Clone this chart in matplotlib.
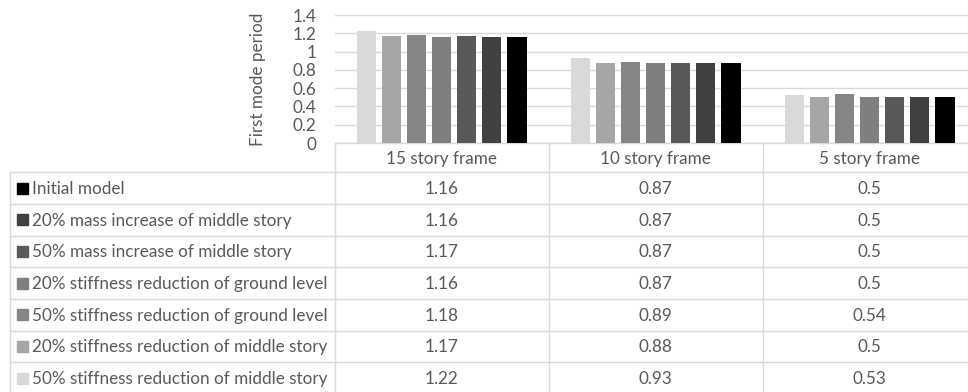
import matplotlib.pyplot as plt
import numpy as np
from matplotlib.patches import Rectangle
from matplotlib.transforms import blended_transform_factory

plt.rcParams['font.family'] = ['Lato', 'DejaVu Sans']

# Data: first mode period of each frame for every model variant
frames = ['15 story frame', '10 story frame', '5 story frame']
cases = ['Initial model',
         '20% mass increase of middle story',
         '50% mass increase of middle story',
         '20% stiffness reduction of ground level',
         '50% stiffness reduction of ground level',
         '20% stiffness reduction of middle story',
         '50% stiffness reduction of middle story']
initial_model = [1.16, 0.87, 0.5]
mass_20_middle = [1.16, 0.87, 0.5]
mass_50_middle = [1.17, 0.87, 0.5]
stiff_20_ground = [1.16, 0.87, 0.5]
stiff_50_ground = [1.18, 0.89, 0.54]
stiff_20_middle = [1.17, 0.88, 0.5]
stiff_50_middle = [1.22, 0.93, 0.53]
periods = [initial_model, mass_20_middle, mass_50_middle, stiff_20_ground,
           stiff_50_ground, stiff_20_middle, stiff_50_middle]
colors = ['#000000', '#404040', '#595959', '#7f7f7f', '#858585', '#a6a6a6', '#d9d9d9']
yticks = [0, 0.2, 0.4, 0.6, 0.8, 1, 1.2, 1.4]

TEXT = '#595959'
GRID = '#d9d9d9'
FS = 12.3

W, H = 968, 392
left_px, right_px = 334.7, 976.7
top_px, zero_px = 15, 143
row_top = 172.3
row_h = 31.67

fig = plt.figure(figsize=(W / 100, H / 100), dpi=100)

# overlay in pixel coordinates for the data table
ov = fig.add_axes([0, 0, 1, 1])
ov.set_xlim(0, W)
ov.set_ylim(H, 0)
ov.axis('off')

ax = fig.add_axes([left_px / W, 1 - zero_px / H,
                   (right_px - left_px) / W, (zero_px - top_px) / H])
ax.set_facecolor('none')

n = len(cases)
x = np.arange(len(frames))
step = 0.1172
bw = 0.09
# bars run from the last table row to the first
for k, i in enumerate(range(n - 1, -1, -1)):
    ax.bar(x + (k - (n - 1) / 2) * step, periods[i], width=bw,
           color=colors[i], zorder=3)

ax.set_xlim(-0.5, len(frames) - 0.5)
ax.set_ylim(0, 1.4)
ax.set_yticks(yticks)
ax.set_yticklabels([f'{v:g}' for v in yticks])
ax.set_xticks([])
ax.tick_params(axis='y', length=0, pad=13, labelsize=FS, labelcolor=TEXT)
ax.grid(axis='y', color=GRID, linewidth=1.0, zorder=0)
for s in ax.spines.values():
    s.set_visible(False)

ov.text(258, (top_px + zero_px) / 2, 'First mode period', rotation=90,
        ha='center', va='center', fontsize=FS, color=TEXT)

# table: x in category units, y in pixels
tr = blended_transform_factory(ax.transData, ov.transData)
bottom = row_top + n * row_h
edges = np.arange(len(frames) + 1) - 0.5
ov.plot([edges[0], edges[-1]], [zero_px, zero_px], color=GRID, lw=1.0, transform=tr)
for e in edges:
    ov.plot([e, e], [zero_px, bottom], color=GRID, lw=1.0, transform=tr)
ov.plot([10, 10], [row_top, bottom], color=GRID, lw=1.0)
for r in range(n + 1):
    yy = row_top + r * row_h
    ov.plot([10, left_px], [yy, yy], color=GRID, lw=1.0)
    ov.plot([edges[0], edges[-1]], [yy, yy], color=GRID, lw=1.0, transform=tr)

for j, f in enumerate(frames):
    ov.text(x[j], (zero_px + row_top) / 2 + 1, f, ha='center', va='center',
            fontsize=FS, color=TEXT, transform=tr)

for i, (name, vals) in enumerate(zip(cases, periods)):
    yc = row_top + (i + 0.5) * row_h
    ov.add_patch(Rectangle((17, yc - 5.5), 11, 11, color=colors[i]))
    ov.text(32, yc + 1, name, ha='left', va='center', fontsize=FS, color=TEXT)
    for j, v in enumerate(vals):
        ov.text(x[j], yc + 1, f'{v:g}', ha='center', va='center',
                fontsize=FS, color=TEXT, transform=tr)

fig.savefig('out.png', dpi=100)
